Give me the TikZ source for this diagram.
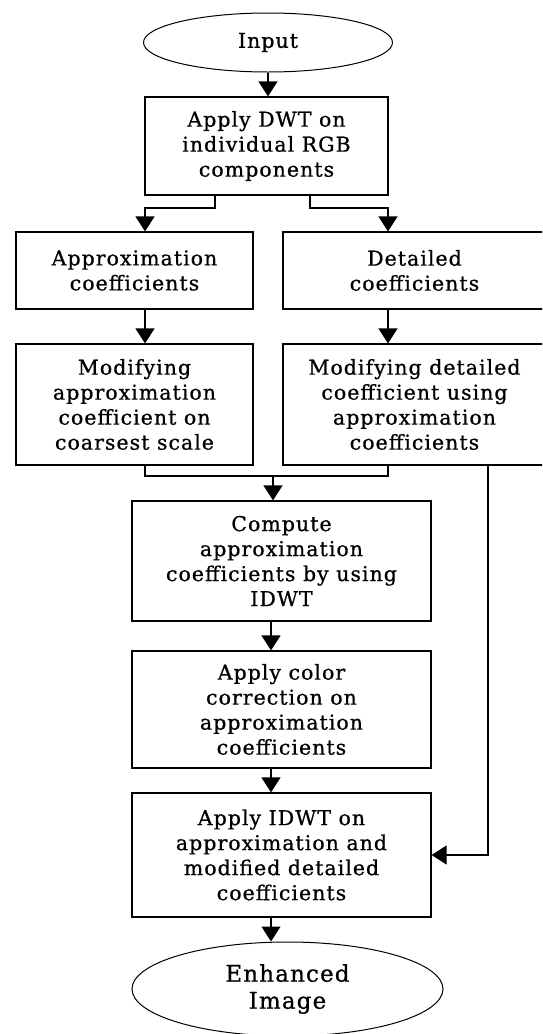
\documentclass[tikz,border=0pt]{standalone}
\usepackage{fontspec}
\setmainfont{DejaVu Serif}[LetterSpace=5, FakeBold=0.8]
\usetikzlibrary{arrows.meta, positioning, calc, shapes.geometric}

\tikzset{
  blk/.style={draw, line width=1.2pt, align=center, inner sep=0pt, font=\fontsize{20.5}{25}\selectfont},
  oval/.style={draw, ellipse, line width=1pt, align=center, inner sep=0pt},
  arr/.style={line width=1.2pt, -{Triangle[length=15pt,width=19pt]}},
  lin/.style={line width=1.2pt}
}

\begin{document}
\begin{tikzpicture}[x=1pt, y=-1pt]
\useasboundingbox (0,0) rectangle (542,1034);
\clip (0,0) rectangle (542,1034);
\node[oval, minimum width=249pt, minimum height=59pt, font=\fontsize{20.5}{25}\selectfont] (input) at (268,42.5) {Input};
\node[blk, minimum width=243pt, minimum height=98pt] (dwt) at (266.5,146) {Apply DWT on\\individual RGB\\components};
\node[blk, minimum width=237pt, minimum height=77pt] (approx) at (134.5,270.5) {Approximation\\coefficients};
\node[blk, minimum width=263pt, minimum height=77pt] (detail) at (414.5,270.5) {Detailed\\coefficients};
\node[blk, minimum width=237pt, minimum height=121pt] (modapprox) at (134.5,404.5) {Modifying\\approximation\\coefficient on\\coarsest scale};
\node[blk, minimum width=263pt, minimum height=121pt] (moddetail) at (414.5,404.5) {Modifying detailed\\coefficient using\\approximation\\coefficients};
\node[blk, minimum width=299pt, minimum height=120pt] (compute) at (281.5,561) {Compute\\approximation\\coefficients by using\\IDWT};
\node[blk, minimum width=299pt, minimum height=117pt] (color) at (281.5,709.5) {Apply color\\correction on\\approximation\\coefficients};
\node[blk, minimum width=299pt, minimum height=124pt] (idwt) at (281.5,855) {Apply IDWT on\\approximation and\\modified detailed\\coefficients};
\node[oval, minimum width=311pt, minimum height=94pt, font=\fontsize{23}{27}\selectfont] (output) at (287.5,989) {Enhanced\\Image};

% stems of the connectors
\coordinate (lstem) at (145,208);
\coordinate (rstem) at (388,208);
\coordinate (mrg) at (273,476);
\coordinate (mid) at (271,0);
\coordinate (side) at (488,0);

\draw[arr] (input) -- (input |- dwt.north);
\draw[arr] ($(dwt.south)+(-51.5,0)$) |- (lstem) -- (lstem |- approx.north);
\draw[arr] ($(dwt.south)+(43.5,0)$) |- (rstem) -- (rstem |- detail.north);
\draw[arr] (lstem |- approx.south) -- (lstem |- modapprox.north);
\draw[arr] (rstem |- detail.south) -- (rstem |- moddetail.north);
\draw[lin] (lstem |- modapprox.south) -- (lstem |- mrg) -- (rstem |- mrg) -- (rstem |- moddetail.south);
\draw[arr] (mrg) -- (mrg |- compute.north);
\draw[arr] (mid |- compute.south) -- (mid |- color.north);
\draw[arr] (mid |- color.south) -- (mid |- idwt.north);
\draw[arr] (side |- moddetail.south) |- (idwt.east);
\draw[arr] (mid |- idwt.south) -- (mid |- output.north);
\end{tikzpicture}
\end{document}
